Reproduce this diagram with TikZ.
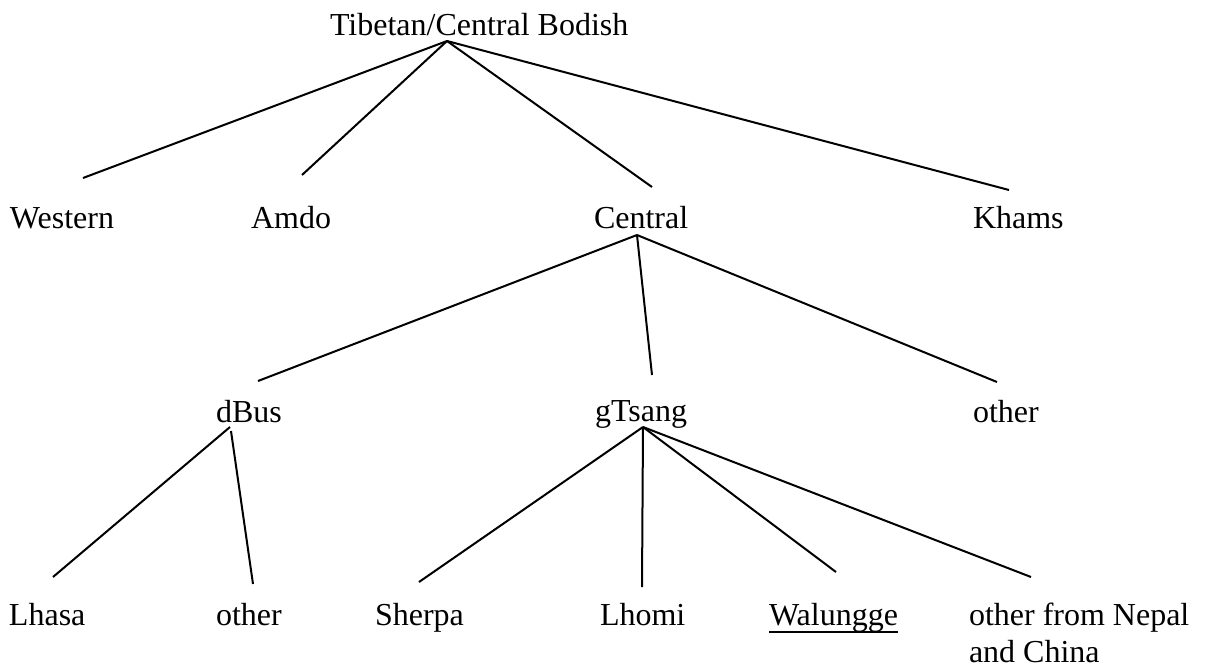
\documentclass[tikz,border=0pt]{standalone}
\usepackage{fontspec}
\setmainfont{Liberation Serif}
\begin{document}
\begin{tikzpicture}[x=0.5pt,y=-0.5pt,
  lbl/.style={anchor=base west,inner sep=0pt,outer sep=0pt,font=\fontsize{16}{18.5}\selectfont},
  edge/.style={line width=1pt,black}]
\useasboundingbox (0,0) rectangle (1212,666);
% nodes
\node[lbl] (title) at (330,35) {Tibetan/Central Bodish};
\node[lbl] (west) at (10,228) {Western};
\node[lbl] (amdo) at (251,228) {Amdo};
\node[lbl] (central) at (594,228) {Central};
\node[lbl] (khams) at (973,228) {Khams};
\node[lbl] (dbus) at (216,422) {dBus};
\node[lbl] (gtsang) at (595,421) {gTsang};
\node[lbl] (otherA) at (973,422) {other};
\node[lbl] (lhasa) at (9,625) {Lhasa};
\node[lbl] (otherB) at (216,625) {other};
\node[lbl] (sherpa) at (375,625) {Sherpa};
\node[lbl] (lhomi) at (600,625) {Lhomi};
\node[lbl] (walung) at (769,625) {Walungge};
\node[lbl,align=left] (nepal) at (969,662) {other from Nepal\\and China};
% underline
\draw[line width=0.8pt] ([yshift=-3.5pt]walung.base west) -- ([yshift=-3.5pt]walung.base east);
% connectors
\draw[edge] ([shift={(117,6)}]title.base west) -- ([shift={(73,-50)}]west.base west);
\draw[edge] ([shift={(117,6)}]title.base west) -- ([shift={(51,-53)}]amdo.base west);
\draw[edge] ([shift={(117,6)}]title.base west) -- ([shift={(58,-41)}]central.base west);
\draw[edge] ([shift={(117,6)}]title.base west) -- ([shift={(36,-38)}]khams.base west);
\draw[edge] ([shift={(43,7)}]central.base west) -- ([shift={(42,-41)}]dbus.base west);
\draw[edge] ([shift={(43,7)}]central.base west) -- ([shift={(57,-46)}]gtsang.base west);
\draw[edge] ([shift={(43,7)}]central.base west) -- ([shift={(24,-40)}]otherA.base west);
\draw[edge] ([shift={(14,5)}]dbus.base west) -- ([shift={(44,-48)}]lhasa.base west);
\draw[edge] ([shift={(15,9)}]dbus.base west) -- ([shift={(37,-41)}]otherB.base west);
\draw[edge] ([shift={(48,6)}]gtsang.base west) -- ([shift={(44,-43)}]sherpa.base west);
\draw[edge] ([shift={(48,6)}]gtsang.base west) -- ([shift={(42,-38)}]lhomi.base west);
\draw[edge] ([shift={(48,6)}]gtsang.base west) -- ([shift={(67,-53)}]walung.base west);
\draw[edge] ([shift={(48,6)}]gtsang.base west) -- ([shift={(62,-85)}]nepal.base west);
\end{tikzpicture}
\end{document}
